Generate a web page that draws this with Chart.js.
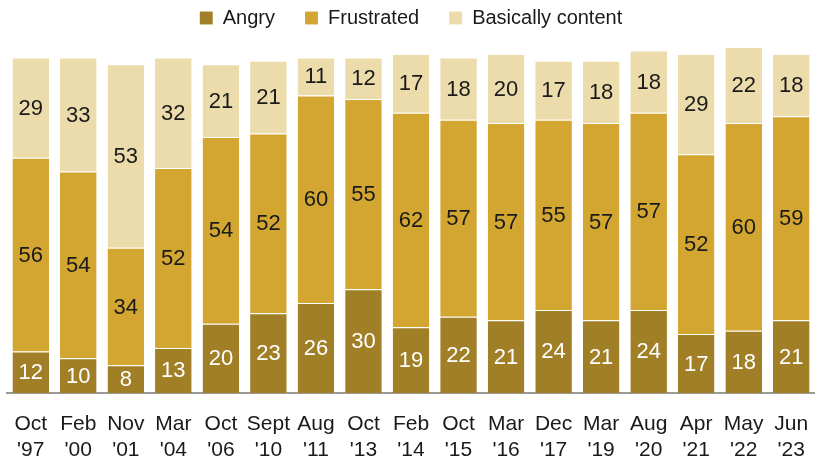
<!DOCTYPE html>
<html>
<head>
<meta charset="utf-8">
<script src="https://cdn.jsdelivr.net/npm/chart.js@4"></script>
<style>
  html, body { margin: 0; padding: 0; background: #fff; }
  #wrap { width: 815px; height: 462px; }
</style>
</head>
<body>
<div id="wrap"><canvas id="chart"></canvas></div>
<script>
const labels = [
  ["Oct", "'97"], ["Feb", "'00"], ["Nov", "'01"], ["Mar", "'04"], ["Oct", "'06"],
  ["Sept", "'10"], ["Aug", "'11"], ["Oct", "'13"], ["Feb", "'14"], ["Oct", "'15"],
  ["Mar", "'16"], ["Dec", "'17"], ["Mar", "'19"], ["Aug", "'20"], ["Apr", "'21"],
  ["May", "'22"], ["Jun", "'23"]
];
const angry      = [12, 10, 8, 13, 20, 23, 26, 30, 19, 22, 21, 24, 21, 24, 17, 18, 21];
const frustrated = [56, 54, 34, 52, 54, 52, 60, 55, 62, 57, 57, 55, 57, 57, 52, 60, 59];
const content    = [29, 33, 53, 32, 21, 21, 11, 12, 17, 18, 20, 17, 18, 18, 29, 22, 18];

const FONT = "'Liberation Sans', Arial, sans-serif";

// numbers inside each segment
const segmentLabels = {
  id: "segmentLabels",
  afterDatasetsDraw(chart) {
    const ctx = chart.ctx;
    ctx.save();
    ctx.font = "22px " + FONT;
    ctx.textAlign = "center";
    ctx.textBaseline = "middle";
    chart.data.datasets.forEach((ds, i) => {
      const meta = chart.getDatasetMeta(i);
      meta.data.forEach((bar, j) => {
        const mid = (bar.y + bar.base) / 2;
        ctx.fillStyle = i === 0 ? "#ffffff" : "#1a1a1a";
        ctx.fillText(ds.data[j], bar.x, mid + 1);
      });
    });
    ctx.restore();
  }
};

// fixed legend height so the plot starts where the reference does
const legendHeight = {
  id: "legendHeight",
  beforeInit(chart) {
    const lg = chart.legend;
    if (!lg) return;
    const fit = lg.fit;
    lg.fit = function () {
      fit.call(this);
      this.height = 69;
    };
  }
};

new Chart(document.getElementById("chart"), {
  type: "bar",
  data: {
    labels: labels,
    datasets: [
      { label: "Angry", data: angry, backgroundColor: "#a07f26" },
      { label: "Frustrated", data: frustrated, backgroundColor: "#d2a630" },
      { label: "Basically content", data: content, backgroundColor: "#ecdcab" }
    ]
  },
  options: {
    responsive: true,
    maintainAspectRatio: false,
    animation: false,
    layout: { padding: { left: 7, right: 0, top: -22, bottom: -19 } },
    datasets: {
      bar: {
        barPercentage: 0.77,
        categoryPercentage: 1,
        borderColor: "rgba(255,255,255,0.45)",
        borderWidth: { top: 1 },
        borderSkipped: false
      }
    },
    plugins: {
      legend: {
        position: "top",
        labels: {
          color: "#1a1a1a",
          font: { family: FONT, size: 20 },
          boxWidth: 13,
          boxHeight: 13,
          padding: 30
        }
      },
      tooltip: { enabled: false }
    },
    scales: {
      x: {
        stacked: true,
        grid: { display: false, drawTicks: false },
        border: { display: true, color: "#9a9a9a", width: 2 },
        ticks: {
          color: "#1a1a1a",
          font: { family: FONT, size: 21, lineHeight: 1.24 },
          padding: 18,
          maxRotation: 0,
          autoSkip: false
        },
        afterFit(scale) {
          scale.paddingLeft = 0;
          scale.paddingRight = 0;
        }
      },
      y: {
        stacked: true,
        display: false,
        min: 0,
        max: 100
      }
    }
  },
  plugins: [segmentLabels, legendHeight]
});
</script>
</body>
</html>
